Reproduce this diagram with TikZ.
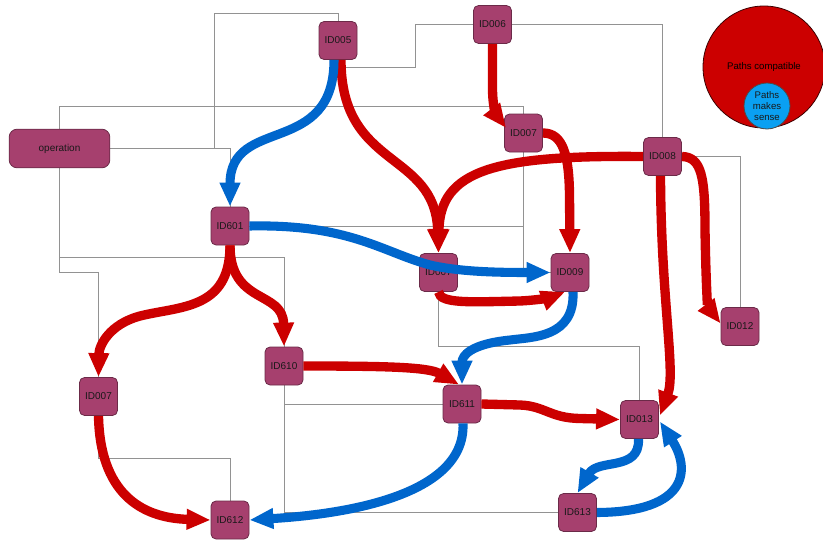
\documentclass[tikz,border=0pt]{standalone}
\usepackage{fontspec}
\setmainfont{Liberation Sans}
\usetikzlibrary{arrows.meta,calc,backgrounds}
\definecolor{boxfill}{HTML}{A6406E}
\definecolor{boxline}{HTML}{6B2A48}
\definecolor{pathred}{HTML}{CC0000}
\definecolor{pathblue}{HTML}{0066CC}
\definecolor{sensefill}{HTML}{0AA0F2}
\definecolor{wire}{HTML}{929292}
\tikzset{
  idbox/.style={draw=boxline, fill=boxfill, line width=0.6pt, rounded corners=3.8pt,
    minimum width=28.5pt, minimum height=28.5pt, inner sep=0pt,
    font=\fontsize{7.5pt}{9pt}\selectfont, text=black!90},
  opbox/.style={idbox, minimum width=75.5pt, minimum height=29pt, rounded corners=6pt},
  wireline/.style={draw=wire, line width=0.75pt},
  redflow/.style={draw=pathred, line width=7pt, -{Triangle[length=18pt, width=14.5pt]}},
  blueflow/.style={draw=pathblue, line width=6.8pt, -{Triangle[length=18pt, width=14.5pt]}},
}
\begin{document}
\begin{tikzpicture}[x=0.75pt, y=-0.75pt]
\useasboundingbox (0,0) rectangle (823,539);

% boxes (pixel grid, y grows downwards)
\node[idbox] (n005) at (338,40.5) {ID005};
\node[opbox] (nop) at (59.5,148.5) {operation};
\node[idbox] (n601) at (230,226) {ID601};
\node[idbox] (n006) at (492.5,24.5) {ID006};
\node[idbox] (n007a) at (523.5,133) {ID007};
\node[idbox] (n008) at (662.5,156.5) {ID008};
\node[idbox] (n007b) at (438.5,272.5) {ID007};
\node[idbox] (n009) at (570,272.5) {ID009};
\node[idbox] (n012) at (740,326.5) {ID012};
\node[idbox] (n611) at (462,404) {ID611};
\node[idbox] (n013) at (639.5,419.5) {ID013};
\node[idbox] (n613) at (577.5,512.5) {ID613};
\node[idbox] (n610) at (284,366) {ID610};
\node[idbox] (n007c) at (98.5,396.5) {ID007};
\node[idbox] (n612) at (230,520) {ID612};

% thin connectors behind the boxes
\begin{scope}[on background layer]
  \path[wireline] (n005.north) |- (214,13) -- (214,148.5) -| (n601.north);
  \path[wireline] (nop.east) -| (n601.north);
  \path[wireline] (n005.south) |- (415,67) |- (n006.west);
  \path[wireline] (nop.north) -- (59.5,106) -| (n007a.north);
  \path[wireline] (n601.east) -| (n007a.south);
  \path[wireline] (n007a.south) |- (n009.west);
  \path[wireline] (n006.east) -| (n008.north);
  \path[wireline] (n008.east) -| (n012.north);
  \path[wireline] (nop.south) -- (59.5,257) -| (n610.north);
  \path[wireline] (nop.south) -- (59.5,272) -| (n007c.north);
  \path[wireline] (n610.south) |- (n613.west);
  \path[wireline] (n610.south) |- (n611.west);
  \path[wireline] (n007c.south) -- (98.5,458) -| (n612.north);
  \path[wireline] (n007b.south) -- (438.5,346) -| (n013.north);
\end{scope}

% compatible paths (red)
\draw[redflow] ($(n005.south)+(3,0)$) .. controls (341,170) and (435,150) .. (n007b.north);
\draw[redflow] (n008.west) .. controls (495,155) and (440,170) .. (n007b.north);
\draw[redflow] (n006.south) -- (492.5,88) .. controls (492.5,108) and (497,116) .. ($(n007a.west)+(2,-5)$);
\draw[redflow] (n007a.east) .. controls (563,133) and (569,155) .. (569.5,195) -- (n009.north);
\draw[redflow] (n007b.south) .. controls (440,304) and (470,302) .. (520,301) .. controls (540,300) and (552,297) .. ($(n009.south)+(-5,0)$);
\draw[redflow] (n601.south) .. controls (230,310) and (180,306) .. (140,316) .. controls (110,324) and (99,345) .. (n007c.north);
\draw[redflow] (n601.south) .. controls (230,305) and (283,290) .. (n610.north);
\draw[redflow] (n610.east) .. controls (385,366) and (428,367) .. ($(n611.north)+(-3,0)$);
\draw[redflow] (n611.east) -- (520,405) .. controls (545,406) and (550,418) .. (580,418.5) -- (n013.west);
\draw[redflow] ($(n008.south)+(-2,0)$) .. controls (661,300) and (676,372) .. ($(n013.east)+(1,-4)$);
\draw[redflow] (n008.east) .. controls (702,157) and (705,178) .. (705,230) .. controls (706,290) and (708,307) .. ($(n012.west)+(0,-3)$);
\draw[redflow] (n007c.south) .. controls (100,492) and (140,518) .. (n612.west);

% paths that make sense (blue)
\draw[blueflow] ($(n005.south)+(-4,0)$) .. controls (334,158) and (230,115) .. (n601.north);
\draw[blueflow] (n601.east) .. controls (350,224) and (382,252) .. (430,265) .. controls (460,272) and (500,272.5) .. (n009.west);
\draw[blueflow] ($(n009.south)+(3,0)$) .. controls (575,338) and (532,337) .. (510,340) .. controls (470,344) and (462,356) .. (n611.north);
\draw[blueflow] ($(n611.south)+(1,0)$) .. controls (466,500) and (330,515) .. (n612.east);
\draw[blueflow] ($(n013.south)+(-1,0)$) .. controls (640,472) and (598,458) .. (n613.north);
\draw[blueflow] (n613.east) .. controls (690,512) and (690,468) .. ($(n013.east)+(1,2)$);

% legend
\node[circle, draw=black!70!pathred, line width=0.6pt, fill=pathred, minimum size=91.5pt, inner sep=0pt] (legA) at (764,67) {};
\node[font=\fontsize{7.2pt}{8.5pt}\selectfont, text=black] (legAt) at (764,67) {Paths compatible};
\node[circle, draw=black!70, line width=0.6pt, fill=sensefill, minimum size=34.5pt, inner sep=0pt,
      align=center, font=\fontsize{7.2pt}{8pt}\selectfont, text=black!90] (legB) at (767,106) {Paths\\makes\\sense};
\end{tikzpicture}
\end{document}
